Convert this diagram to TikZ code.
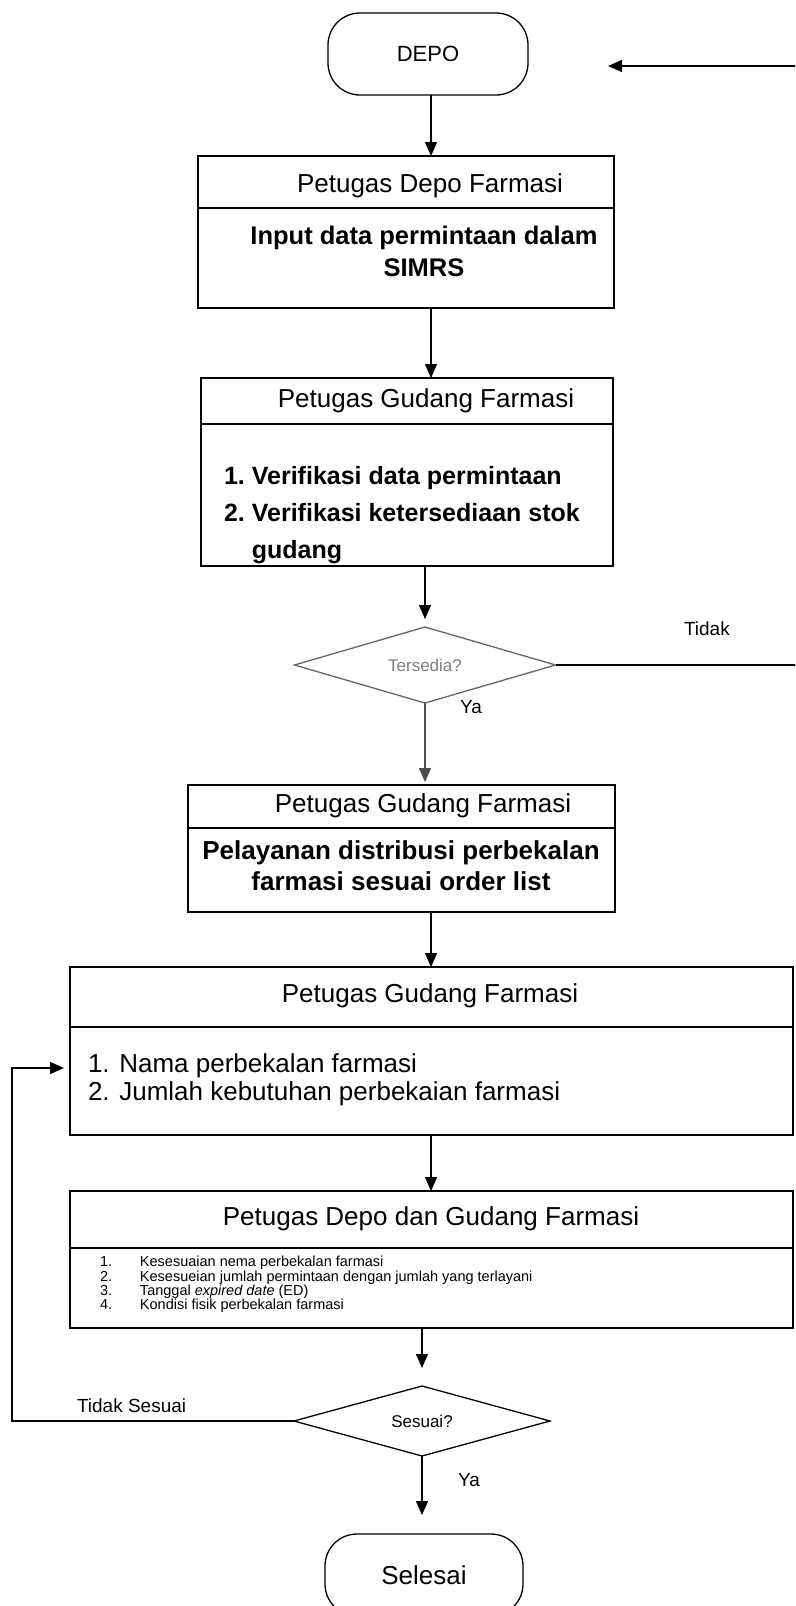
\documentclass[tikz,border=0pt]{standalone}
\usepackage{fontspec}
\setmainfont{Liberation Sans}
\usetikzlibrary{shapes.geometric,arrows.meta,calc}
\begin{document}
\begin{tikzpicture}[x=1pt,y=-1pt,
  every node/.style={inner sep=0pt,outer sep=0pt},
  boxst/.style={draw,line width=1.5pt,rectangle},
  termst/.style={draw,line width=1.3pt,rounded corners=32pt},
  decst/.style={draw,diamond,line width=1.3pt},
  arr/.style={-{Triangle[length=14pt,width=12pt]},line width=1.3pt},
  hdr/.style={font={\fontsize{26}{30}\selectfont}},
  bld/.style={font={\fontsize{25.5}{32}\selectfont\bfseries},align=center},
  lbl/.style={font={\fontsize{19}{23}\selectfont}},
  divline/.style={line width=1.5pt},
]
\useasboundingbox (0,0) rectangle (795,1606);
\clip (0,0) rectangle (795,1606);

% terminals
\node[termst,minimum width=200pt,minimum height=82pt,font={\fontsize{22}{26}\selectfont}] (depo) at (428,54) {DEPO};
\node[termst,minimum width=198pt,minimum height=82pt,font={\fontsize{26}{30}\selectfont}] (sel) at (424,1575) {Selesai};

% box 1
\node[boxst,minimum width=416pt,minimum height=152pt] (b1) at (406,232) {};
\draw[divline] (b1.west |- 0,208) -- (b1.east |- 0,208);
\node[hdr] (b1h) at (430,186) {Petugas Depo Farmasi};
\node[bld] (b1t) at (424,251) {Input data permintaan dalam\\SIMRS};

% box 2
\node[boxst,minimum width=412pt,minimum height=188pt] (b2) at (407,472) {};
\draw[divline] (b2.west |- 0,424) -- (b2.east |- 0,424);
\node[hdr] (b2h) at (426,401) {Petugas Gudang Farmasi};
\node[anchor=west,font={\fontsize{25}{37}\selectfont\bfseries}] (b2t) at (224,514)
  {\begin{tabular}{@{}l@{\hspace{7pt}}l@{}}1.&Verifikasi data permintaan\\2.&Verifikasi ketersediaan stok\\&gudang\end{tabular}};

% decision 1
\node[decst,draw=gray!80!black,minimum width=261pt,minimum height=76pt,
  label={[name=tl,font={\fontsize{17}{20}\selectfont},text=gray]center:Tersedia?}] (ter) at (425,665) {};

% box 3
\node[boxst,minimum width=427pt,minimum height=127pt] (b3) at (401.5,848.5) {};
\draw[divline] (b3.west |- 0,828) -- (b3.east |- 0,828);
\node[hdr] (b3h) at (423,806) {Petugas Gudang Farmasi};
\node[bld,font={\fontsize{26}{31}\selectfont\bfseries}] (b3t) at (401,866) {Pelayanan distribusi perbekalan\\farmasi sesuai order list};

% box 4
\node[boxst,minimum width=723pt,minimum height=168pt] (b4) at (431.5,1051) {};
\draw[divline] (b4.west |- 0,1027) -- (b4.east |- 0,1027);
\node[hdr] (b4h) at (430,996) {Petugas Gudang Farmasi};
\node[anchor=west,align=left,font={\fontsize{26}{28}\selectfont}] (b4t) at (88,1080)
  {1. Nama perbekalan farmasi\\2. Jumlah kebutuhan perbekaian farmasi};

% box 5
\node[boxst,minimum width=723pt,minimum height=137pt] (b5) at (431.5,1259.5) {};
\draw[divline] (b5.west |- 0,1248) -- (b5.east |- 0,1248);
\node[hdr] (b5h) at (431,1219) {Petugas Depo dan Gudang Farmasi};
\node[anchor=west,align=left,font={\fontsize{14.5}{14.3}\selectfont}] (b5t) at (100,1284.5)
  {\makebox[40pt][l]{1.}Kesesuaian nema perbekalan farmasi\\
   \makebox[40pt][l]{2.}Kesesueian jumlah permintaan dengan jumlah yang terlayani\\
   \makebox[40pt][l]{3.}Tanggal \textit{expired date} (ED)\\
   \makebox[40pt][l]{4.}Kondisi fisik perbekalan farmasi};

% decision 2
\node[decst,minimum width=256pt,minimum height=70pt,
  label={[name=sl,font={\fontsize{17}{20}\selectfont}]center:Sesuai?}] (ses) at (422,1421) {};

% labels
\node[lbl,anchor=west] (tidak) at (684,629) {Tidak};
\node[lbl,anchor=west] (ya1) at (460,707) {Ya};
\node[lbl,anchor=west] (ts) at (77,1406) {Tidak Sesuai};
\node[lbl,anchor=west] (ya2) at (458,1480) {Ya};

% connectors
\coordinate (ax) at (431,0);
\coordinate (depoin) at (608,66);
\coordinate (rt) at (812,0);
\coordinate (lx) at (12,0);
\coordinate (b4in) at (0,1068);

\draw[arr] (ter.east) -- (rt |- ter.east) -- (rt |- depoin) -- (depoin);
\draw[arr] (depo.south -| ax) -- (b1.north -| ax);
\draw[arr] (b1.south -| ax) -- (b2.north -| ax);
\draw[arr,shorten >=8pt] (b2.south -| ter) -- (ter.north);
\draw[arr,draw=gray!60!black,shorten >=3pt] (ter.south) -- (ter.south |- b3.north);
\draw[arr] (b3.south -| ax) -- (b4.north -| ax);
\draw[arr] (b4.south -| ax) -- (b5.north -| ax);
\draw[arr,shorten >=18pt] (b5.south -| ses) -- (ses.north);
\draw[arr,shorten >=19pt] (ses.south) -- (ses.south |- sel.north);
\draw[arr,shorten >=6pt] (ses.west) -| (lx |- b4in) -- (b4.west |- b4in);
\end{tikzpicture}
\end{document}
